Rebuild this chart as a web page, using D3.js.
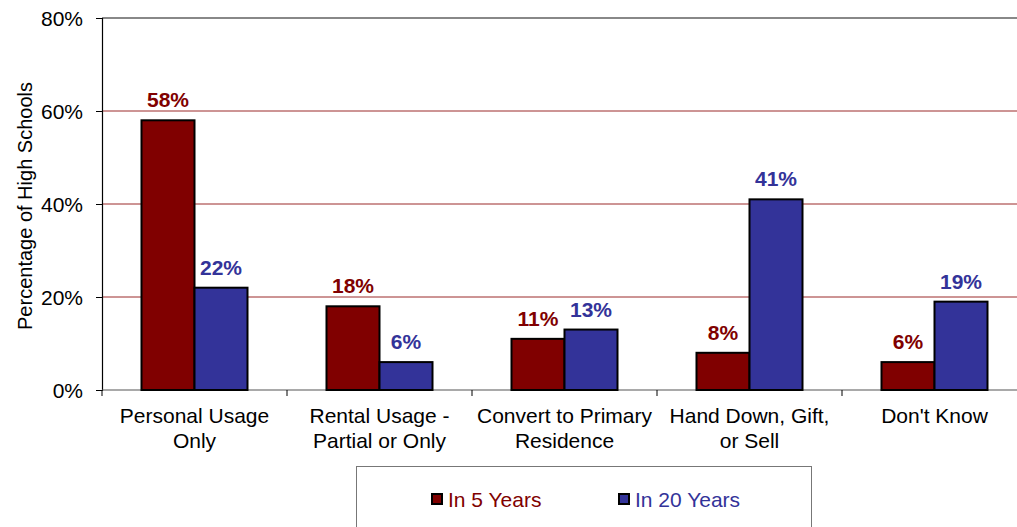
<!DOCTYPE html>
<html>
<head>
<meta charset="utf-8">
<script src="https://cdn.jsdelivr.net/npm/d3@7/dist/d3.min.js"></script>
<style>
  body { margin: 0; background: #fff; }
  svg { display: block; font-family: "Liberation Sans", Arial, sans-serif; }
</style>
</head>
<body>
<div id="chart"></div>
<script>
// Chart data
var categories = [
  ["Personal Usage", "Only"],
  ["Rental Usage -", "Partial or Only"],
  ["Convert to Primary", "Residence"],
  ["Hand Down, Gift,", "or Sell"],
  ["Don't Know"]
];
var seriesNames = ["In 5 Years", "In 20 Years"];
var in5Years = [58, 18, 11, 8, 6];
var in20Years = [22, 6, 13, 41, 19];
var yTicks = [0, 20, 40, 60, 80];
var colors = ["#800000", "#333399"];

var W = 1017, H = 527;
var margin = {top: 18, left: 102};
var width = 925, height = 372;

var svg = d3.select("#chart").append("svg")
    .attr("width", W).attr("height", H);

var g = svg.append("g")
    .attr("transform", "translate(" + margin.left + "," + margin.top + ")");

var x0 = d3.scaleBand()
    .domain(d3.range(categories.length))
    .range([0, width])
    .paddingInner(0.427)
    .paddingOuter(0.2135);
var x1 = d3.scaleBand()
    .domain([0, 1])
    .range([0, x0.bandwidth()]);
var y = d3.scaleLinear().domain([0, 80]).range([height, 0]);

// gridlines
g.selectAll(".grid")
  .data(yTicks.filter(function(d) { return d > 0 && d < 80; }))
  .enter().append("line")
    .attr("x1", 0).attr("x2", width)
    .attr("y1", function(d) { return y(d); })
    .attr("y2", function(d) { return y(d); })
    .attr("stroke", "#9b2a2a").attr("stroke-width", 1);

// top border
g.append("line")
  .attr("x1", 0).attr("x2", width)
  .attr("y1", y(80)).attr("y2", y(80))
  .attr("stroke", "#888").attr("stroke-width", 2);

// y axis
var yAxis = g.append("g")
  .call(d3.axisLeft(y).tickValues(yTicks).tickSize(6).tickFormat(function(d) { return d + "%"; }));
yAxis.select(".domain").attr("stroke", "#000").attr("stroke-width", 1.2);
yAxis.selectAll(".tick line").attr("stroke", "#000");
yAxis.selectAll("text")
  .attr("font-size", 21).attr("fill", "#000")
  .attr("font-family", "Liberation Sans, Arial, sans-serif")
  .attr("x", -19).attr("dy", "0.35em");

// x axis
g.append("line")
  .attr("x1", 0).attr("x2", width)
  .attr("y1", height).attr("y2", height)
  .attr("stroke", "#555").attr("stroke-width", 1.2);
g.selectAll(".xtick")
  .data(d3.range(categories.length + 1))
  .enter().append("line")
    .attr("x1", function(i) { return i * x0.step(); })
    .attr("x2", function(i) { return i * x0.step(); })
    .attr("y1", height).attr("y2", height + 6)
    .attr("stroke", "#000");

// category labels
var cat = g.selectAll(".cat")
  .data(categories)
  .enter().append("text")
    .attr("text-anchor", "middle")
    .attr("font-size", 21)
    .attr("fill", "#000")
    .attr("transform", function(d, i) {
      return "translate(" + (x0(i) + x0.bandwidth() / 2) + "," + (height + 33) + ")";
    });
cat.selectAll("tspan")
  .data(function(d) { return d; })
  .enter().append("tspan")
    .attr("x", 0)
    .attr("y", function(d, j) { return j * 25; })
    .text(function(d) { return d; });

// bars
var groups = g.selectAll(".grp")
  .data(categories.map(function(c, i) { return [in5Years[i], in20Years[i]]; }))
  .enter().append("g")
    .attr("transform", function(d, i) { return "translate(" + x0(i) + ",0)"; });

groups.selectAll("rect")
  .data(function(d) { return d; })
  .enter().append("rect")
    .attr("x", function(d, j) { return x1(j); })
    .attr("y", function(d) { return y(d); })
    .attr("width", x1.bandwidth())
    .attr("height", function(d) { return height - y(d); })
    .attr("fill", function(d, j) { return colors[j]; })
    .attr("stroke", "#000")
    .attr("stroke-width", 2);

groups.selectAll(".lbl")
  .data(function(d) { return d; })
  .enter().append("text")
    .attr("x", function(d, j) { return x1(j) + x1.bandwidth() / 2; })
    .attr("y", function(d) { return y(d) - 13; })
    .attr("text-anchor", "middle")
    .attr("font-size", 21)
    .attr("font-weight", "bold")
    .attr("fill", function(d, j) { return colors[j]; })
    .text(function(d) { return d + "%"; });

// y axis title
svg.append("text")
  .attr("transform", "translate(32," + (margin.top + height / 2 + 2) + ") rotate(-90)")
  .attr("text-anchor", "middle")
  .attr("font-size", 20)
  .attr("fill", "#000")
  .text("Percentage of High Schools");

// legend
var legend = svg.append("g");
legend.append("rect")
  .attr("x", 356.5).attr("y", 466.5)
  .attr("width", 455).attr("height", 80)
  .attr("fill", "#fff").attr("stroke", "#777").attr("stroke-width", 1);

var legX = [432, 619];
var items = legend.selectAll(".item")
  .data(seriesNames)
  .enter().append("g")
    .attr("transform", function(d, i) { return "translate(" + legX[i] + ",494)"; });
items.append("rect")
  .attr("width", 10).attr("height", 10)
  .attr("fill", function(d, i) { return colors[i]; })
  .attr("stroke", "#000").attr("stroke-width", 2);
items.append("text")
  .attr("x", 16).attr("y", 13)
  .attr("font-size", 21)
  .attr("fill", function(d, i) { return colors[i]; })
  .text(function(d) { return d; });
</script>
</body>
</html>
